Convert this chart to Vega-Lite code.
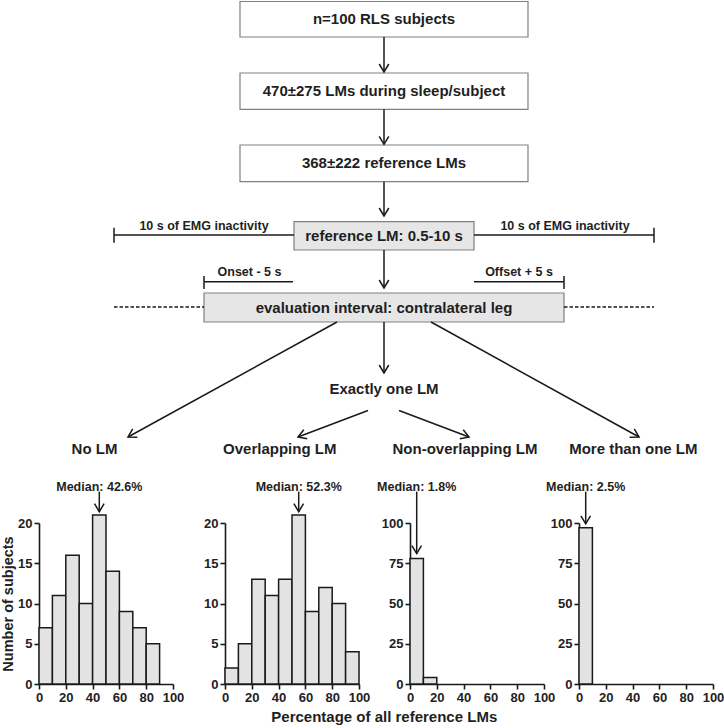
{
  "$schema": "https://vega.github.io/schema/vega-lite/v6.json",
  "padding": {"left": 0, "top": 0, "right": 0, "bottom": 0},
  "background": "white",
  "bounds": "flush",
  "spacing": 59,
  "config": {
    "font": "Liberation Sans",
    "view": {"stroke": null},
    "axis": {
      "grid": false,
      "domainColor": "#1a1a1a",
      "domainWidth": 1.6,
      "tickColor": "#1a1a1a",
      "tickWidth": 1.6,
      "tickSize": 5,
      "labelFont": "Liberation Sans",
      "labelFontSize": 13,
      "labelFontWeight": "bold",
      "labelColor": "#222222",
      "labelPadding": 2,
      "labelOverlap": false,
      "titleFont": "Liberation Sans",
      "titleFontSize": 14.5,
      "titleFontWeight": "bold",
      "titleColor": "#222222",
      "titlePadding": 2
    }
  },
  "datasets": {
    "boxes": [
      {"x": 240, "x2": 528, "y": 0.5, "y2": 36},
      {"x": 240, "x2": 528, "y": 72, "y2": 108.3},
      {"x": 240, "x2": 528, "y": 144, "y2": 180.7}
    ],
    "gboxes": [
      {"x": 294, "x2": 474, "y": 220.7, "y2": 249},
      {"x": 204, "x2": 564, "y": 292, "y2": 321}
    ],
    "seg": [
      {"x": 114, "y": 234, "x2": 294, "y2": 234},
      {"x": 114, "y": 226.7, "x2": 114, "y2": 241.7},
      {"x": 474, "y": 234, "x2": 654, "y2": 234},
      {"x": 654, "y": 226.7, "x2": 654, "y2": 241.7},
      {"x": 204, "y": 280.7, "x2": 293, "y2": 280.7},
      {"x": 204, "y": 275, "x2": 204, "y2": 288},
      {"x": 474, "y": 280.7, "x2": 564, "y2": 280.7},
      {"x": 564, "y": 275, "x2": 564, "y2": 288}
    ],
    "dash": [
      {"x": 114, "y": 306, "x2": 204, "y2": 306},
      {"x": 564, "y": 306, "x2": 654, "y2": 306}
    ],
    "arrows": [
      {"x": 384, "y": 36, "x2": 384, "y2": 71},
      {"x": 384, "y": 108.3, "x2": 384, "y2": 143.3},
      {"x": 384, "y": 180.7, "x2": 384, "y2": 215},
      {"x": 384, "y": 249, "x2": 384, "y2": 287},
      {"x": 384, "y": 321, "x2": 384, "y2": 372},
      {"x": 337, "y": 321, "x2": 128, "y2": 436},
      {"x": 431, "y": 321, "x2": 639, "y2": 436},
      {"x": 368, "y": 409.5, "x2": 298, "y2": 436},
      {"x": 399, "y": 409.5, "x2": 469, "y2": 436}
    ],
    "bigText": [
      {"x": 384, "y": 18, "t": "n=100 RLS subjects"},
      {"x": 384, "y": 90, "t": "470±275 LMs during sleep/subject"},
      {"x": 384, "y": 162, "t": "368±222 reference LMs"},
      {"x": 384, "y": 234.5, "t": "reference LM: 0.5-10 s"},
      {"x": 384, "y": 306.5, "t": "evaluation interval: contralateral leg"},
      {"x": 384, "y": 388, "t": "Exactly one LM"},
      {"x": 94.5, "y": 448, "t": "No LM"},
      {"x": 279.7, "y": 448, "t": "Overlapping LM"},
      {"x": 465, "y": 448, "t": "Non-overlapping LM"},
      {"x": 633.3, "y": 448, "t": "More than one LM"}
    ],
    "smallText": [
      {"x": 204, "y": 225, "t": "10 s of EMG inactivity"},
      {"x": 565, "y": 225, "t": "10 s of EMG inactivity"},
      {"x": 249.5, "y": 271, "t": "Onset - 5 s"},
      {"x": 519, "y": 271, "t": "Offset + 5 s"}
    ],
    "h1": [
      {"start": 0, "end": 10, "count": 7},
      {"start": 10, "end": 20, "count": 11},
      {"start": 20, "end": 30, "count": 16},
      {"start": 30, "end": 40, "count": 10},
      {"start": 40, "end": 50, "count": 21},
      {"start": 50, "end": 60, "count": 14},
      {"start": 60, "end": 70, "count": 9},
      {"start": 70, "end": 80, "count": 7},
      {"start": 80, "end": 90, "count": 5}
    ],
    "h2": [
      {"start": 0, "end": 10, "count": 2},
      {"start": 10, "end": 20, "count": 5},
      {"start": 20, "end": 30, "count": 13},
      {"start": 30, "end": 40, "count": 11},
      {"start": 40, "end": 50, "count": 13},
      {"start": 50, "end": 60, "count": 21},
      {"start": 60, "end": 70, "count": 9},
      {"start": 70, "end": 80, "count": 12},
      {"start": 80, "end": 90, "count": 10},
      {"start": 90, "end": 100, "count": 4}
    ],
    "h3": [
      {"start": 0, "end": 10, "count": 78},
      {"start": 10, "end": 20, "count": 4}
    ],
    "h4": [
      {"start": 0, "end": 10, "count": 97}
    ],
    "m1": [{"x": 45, "ty": 24.5, "a1": 23.9, "a2": 21.4, "label": "Median: 42.6%"}],
    "m2": [{"x": 55, "ty": 24.5, "a1": 23.9, "a2": 21.4, "label": "Median: 52.3%"}],
    "m3": [{"x": 5, "ty": 122.5, "a1": 119.5, "a2": 81, "label": "Median: 1.8%"}],
    "m4": [{"x": 5, "ty": 122.5, "a1": 119.5, "a2": 99.5, "label": "Median: 2.5%"}]
  },
  "vconcat": [
    {
      "width": 685,
      "height": 463,
      "layer": [
        {
          "data": {"name": "boxes"},
          "mark": {"type": "rect", "fill": "white", "stroke": "#808080", "strokeWidth": 1.2},
          "encoding": {
            "x": {"field": "x", "type": "quantitative", "scale": {"domain": [39, 724], "nice": false, "zero": false}, "axis": null},
            "x2": {"field": "x2"},
            "y": {"field": "y", "type": "quantitative", "scale": {"domain": [0, 463], "reverse": true, "nice": false, "zero": false}, "axis": null},
            "y2": {"field": "y2"}
          }
        },
        {
          "data": {"name": "gboxes"},
          "mark": {"type": "rect", "fill": "#e6e6e6", "stroke": "#808080", "strokeWidth": 1.2},
          "encoding": {
            "x": {"field": "x", "type": "quantitative", "scale": {"domain": [39, 724], "nice": false, "zero": false}, "axis": null},
            "x2": {"field": "x2"},
            "y": {"field": "y", "type": "quantitative", "scale": {"domain": [0, 463], "reverse": true, "nice": false, "zero": false}, "axis": null},
            "y2": {"field": "y2"}
          }
        },
        {
          "data": {"name": "seg"},
          "mark": {"type": "rule", "color": "#1a1a1a", "strokeWidth": 1.5},
          "encoding": {
            "x": {"field": "x", "type": "quantitative", "scale": {"domain": [39, 724], "nice": false, "zero": false}, "axis": null},
            "x2": {"field": "x2"},
            "y": {"field": "y", "type": "quantitative", "scale": {"domain": [0, 463], "reverse": true, "nice": false, "zero": false}, "axis": null},
            "y2": {"field": "y2"}
          }
        },
        {
          "data": {"name": "dash"},
          "mark": {"type": "rule", "color": "#1a1a1a", "strokeWidth": 1.3, "strokeDash": [3.5, 2]},
          "encoding": {
            "x": {"field": "x", "type": "quantitative", "scale": {"domain": [39, 724], "nice": false, "zero": false}, "axis": null},
            "x2": {"field": "x2"},
            "y": {"field": "y", "type": "quantitative", "scale": {"domain": [0, 463], "reverse": true, "nice": false, "zero": false}, "axis": null},
            "y2": {"field": "y2"}
          }
        },
        {
          "data": {"name": "arrows"},
          "mark": {"type": "rule", "color": "#1a1a1a", "strokeWidth": 1.5},
          "encoding": {
            "x": {"field": "x", "type": "quantitative", "scale": {"domain": [39, 724], "nice": false, "zero": false}, "axis": null},
            "x2": {"field": "x2"},
            "y": {"field": "y", "type": "quantitative", "scale": {"domain": [0, 463], "reverse": true, "nice": false, "zero": false}, "axis": null},
            "y2": {"field": "y2"}
          }
        },
        {
          "data": {"name": "arrows"},
          "transform": [{"calculate": "atan2(datum.x - datum.x2, datum.y2 - datum.y) * 180 / PI", "as": "ang"}],
          "mark": {"type": "point", "shape": "M-0.6,-1L0,0L0.6,-1", "size": 256, "filled": false, "color": "#1a1a1a", "strokeWidth": 1.5, "opacity": 1},
          "encoding": {
            "x": {"field": "x2", "type": "quantitative", "scale": {"domain": [39, 724], "nice": false, "zero": false}, "axis": null},
            "y": {"field": "y2", "type": "quantitative", "scale": {"domain": [0, 463], "reverse": true, "nice": false, "zero": false}, "axis": null},
            "angle": {"field": "ang", "type": "quantitative", "scale": null}
          }
        },
        {
          "data": {"name": "bigText"},
          "mark": {"type": "text", "fontSize": 15, "fontWeight": "bold", "color": "#1f1f1f", "baseline": "middle", "align": "center"},
          "encoding": {
            "x": {"field": "x", "type": "quantitative", "scale": {"domain": [39, 724], "nice": false, "zero": false}, "axis": null},
            "y": {"field": "y", "type": "quantitative", "scale": {"domain": [0, 463], "reverse": true, "nice": false, "zero": false}, "axis": null},
            "text": {"field": "t"}
          }
        },
        {
          "data": {"name": "smallText"},
          "mark": {"type": "text", "fontSize": 12.5, "fontWeight": "bold", "color": "#1f1f1f", "baseline": "middle", "align": "center"},
          "encoding": {
            "x": {"field": "x", "type": "quantitative", "scale": {"domain": [39, 724], "nice": false, "zero": false}, "axis": null},
            "y": {"field": "y", "type": "quantitative", "scale": {"domain": [0, 463], "reverse": true, "nice": false, "zero": false}, "axis": null},
            "text": {"field": "t"}
          }
        }
      ]
    },
    {
      "bounds": "flush",
      "spacing": 0,
      "title": {"text": "Percentage of all reference LMs", "orient": "bottom", "anchor": "middle", "fontSize": 15, "fontWeight": "bold", "color": "#1f1f1f", "font": "Liberation Sans", "offset": 6, "dx": 22},
      "hconcat": [
        {
          "width": 186, "height": 161,
          "layer": [
            {
              "data": {"name": "h1"},
              "mark": {"type": "rect", "fill": "#e3e3e3", "stroke": "#1a1a1a", "strokeWidth": 1.5},
              "encoding": {
                "x": {"field": "start", "type": "quantitative", "title": null, "scale": {"domain": [0, 100], "range": [0, 134], "nice": false}, "axis": {"values": [0, 20, 40, 60, 80, 100], "format": "d", "labelOverlap": false, "labelFlush": false}},
                "x2": {"field": "end"},
                "y": {"field": "count", "type": "quantitative", "title": "Number of subjects", "scale": {"domain": [0, 20], "nice": false}, "axis": {"values": [0, 5, 10, 15, 20], "format": "d", "labelOverlap": false}},
                "y2": {"datum": 0}
              }
            },
            {
              "data": {"name": "m1"},
              "mark": {"type": "rule", "color": "#1a1a1a", "strokeWidth": 1.5},
              "encoding": {
                "x": {"field": "x", "type": "quantitative", "title": null, "axis": {"values": [0, 20, 40, 60, 80, 100], "format": "d", "labelOverlap": false, "labelFlush": false}},
                "y": {"field": "a1", "type": "quantitative", "title": "Number of subjects", "axis": {"values": [0, 5, 10, 15, 20], "format": "d", "labelOverlap": false}},
                "y2": {"field": "a2"}
              }
            },
            {
              "data": {"name": "m1"},
              "mark": {"type": "point", "shape": "M-0.6,-1L0,0L0.6,-1", "size": 256, "filled": false, "color": "#1a1a1a", "strokeWidth": 1.5, "opacity": 1},
              "encoding": {
                "x": {"field": "x", "type": "quantitative", "title": null, "axis": {"values": [0, 20, 40, 60, 80, 100], "format": "d", "labelOverlap": false, "labelFlush": false}},
                "y": {"field": "a2", "type": "quantitative", "title": "Number of subjects", "axis": {"values": [0, 5, 10, 15, 20], "format": "d", "labelOverlap": false}}
              }
            },
            {
              "data": {"name": "m1"},
              "mark": {"type": "text", "fontSize": 12.5, "fontWeight": "bold", "color": "#1f1f1f", "baseline": "middle"},
              "encoding": {
                "x": {"field": "x", "type": "quantitative", "title": null, "axis": {"values": [0, 20, 40, 60, 80, 100], "format": "d", "labelOverlap": false, "labelFlush": false}},
                "y": {"field": "ty", "type": "quantitative", "title": "Number of subjects", "axis": {"values": [0, 5, 10, 15, 20], "format": "d", "labelOverlap": false}},
                "text": {"field": "label"}
              }
            }
          ]
        },
        {
          "width": 185, "height": 161,
          "layer": [
            {
              "data": {"name": "h2"},
              "mark": {"type": "rect", "fill": "#e3e3e3", "stroke": "#1a1a1a", "strokeWidth": 1.5},
              "encoding": {
                "x": {"field": "start", "type": "quantitative", "title": null, "scale": {"domain": [0, 100], "range": [0, 134], "nice": false}, "axis": {"values": [0, 20, 40, 60, 80, 100], "format": "d", "labelOverlap": false, "labelFlush": false}},
                "x2": {"field": "end"},
                "y": {"field": "count", "type": "quantitative", "title": null, "scale": {"domain": [0, 20], "nice": false}, "axis": {"values": [0, 5, 10, 15, 20], "format": "d", "labelOverlap": false}},
                "y2": {"datum": 0}
              }
            },
            {
              "data": {"name": "m2"},
              "mark": {"type": "rule", "color": "#1a1a1a", "strokeWidth": 1.5},
              "encoding": {
                "x": {"field": "x", "type": "quantitative", "title": null, "axis": {"values": [0, 20, 40, 60, 80, 100], "format": "d", "labelOverlap": false, "labelFlush": false}},
                "y": {"field": "a1", "type": "quantitative", "title": null, "axis": {"values": [0, 5, 10, 15, 20], "format": "d", "labelOverlap": false}},
                "y2": {"field": "a2"}
              }
            },
            {
              "data": {"name": "m2"},
              "mark": {"type": "point", "shape": "M-0.6,-1L0,0L0.6,-1", "size": 256, "filled": false, "color": "#1a1a1a", "strokeWidth": 1.5, "opacity": 1},
              "encoding": {
                "x": {"field": "x", "type": "quantitative", "title": null, "axis": {"values": [0, 20, 40, 60, 80, 100], "format": "d", "labelOverlap": false, "labelFlush": false}},
                "y": {"field": "a2", "type": "quantitative", "title": null, "axis": {"values": [0, 5, 10, 15, 20], "format": "d", "labelOverlap": false}}
              }
            },
            {
              "data": {"name": "m2"},
              "mark": {"type": "text", "fontSize": 12.5, "fontWeight": "bold", "color": "#1f1f1f", "baseline": "middle"},
              "encoding": {
                "x": {"field": "x", "type": "quantitative", "title": null, "axis": {"values": [0, 20, 40, 60, 80, 100], "format": "d", "labelOverlap": false, "labelFlush": false}},
                "y": {"field": "ty", "type": "quantitative", "title": null, "axis": {"values": [0, 5, 10, 15, 20], "format": "d", "labelOverlap": false}},
                "text": {"field": "label"}
              }
            }
          ]
        },
        {
          "width": 169, "height": 161,
          "layer": [
            {
              "data": {"name": "h3"},
              "mark": {"type": "rect", "fill": "#e3e3e3", "stroke": "#1a1a1a", "strokeWidth": 1.5},
              "encoding": {
                "x": {"field": "start", "type": "quantitative", "title": null, "scale": {"domain": [0, 100], "range": [0, 134], "nice": false}, "axis": {"values": [0, 20, 40, 60, 80, 100], "format": "d", "labelOverlap": false, "labelFlush": false}},
                "x2": {"field": "end"},
                "y": {"field": "count", "type": "quantitative", "title": null, "scale": {"domain": [0, 100], "nice": false}, "axis": {"values": [0, 25, 50, 75, 100], "format": "d", "labelOverlap": false}},
                "y2": {"datum": 0}
              }
            },
            {
              "data": {"name": "m3"},
              "mark": {"type": "rule", "color": "#1a1a1a", "strokeWidth": 1.5},
              "encoding": {
                "x": {"field": "x", "type": "quantitative", "title": null, "axis": {"values": [0, 20, 40, 60, 80, 100], "format": "d", "labelOverlap": false, "labelFlush": false}},
                "y": {"field": "a1", "type": "quantitative", "title": null, "axis": {"values": [0, 25, 50, 75, 100], "format": "d", "labelOverlap": false}},
                "y2": {"field": "a2"}
              }
            },
            {
              "data": {"name": "m3"},
              "mark": {"type": "point", "shape": "M-0.6,-1L0,0L0.6,-1", "size": 256, "filled": false, "color": "#1a1a1a", "strokeWidth": 1.5, "opacity": 1},
              "encoding": {
                "x": {"field": "x", "type": "quantitative", "title": null, "axis": {"values": [0, 20, 40, 60, 80, 100], "format": "d", "labelOverlap": false, "labelFlush": false}},
                "y": {"field": "a2", "type": "quantitative", "title": null, "axis": {"values": [0, 25, 50, 75, 100], "format": "d", "labelOverlap": false}}
              }
            },
            {
              "data": {"name": "m3"},
              "mark": {"type": "text", "fontSize": 12.5, "fontWeight": "bold", "color": "#1f1f1f", "baseline": "middle"},
              "encoding": {
                "x": {"field": "x", "type": "quantitative", "title": null, "axis": {"values": [0, 20, 40, 60, 80, 100], "format": "d", "labelOverlap": false, "labelFlush": false}},
                "y": {"field": "ty", "type": "quantitative", "title": null, "axis": {"values": [0, 25, 50, 75, 100], "format": "d", "labelOverlap": false}},
                "text": {"field": "label"}
              }
            }
          ]
        },
        {
          "width": 145, "height": 161,
          "layer": [
            {
              "data": {"name": "h4"},
              "mark": {"type": "rect", "fill": "#e3e3e3", "stroke": "#1a1a1a", "strokeWidth": 1.5},
              "encoding": {
                "x": {"field": "start", "type": "quantitative", "title": null, "scale": {"domain": [0, 100], "range": [0, 134], "nice": false}, "axis": {"values": [0, 20, 40, 60, 80, 100], "format": "d", "labelOverlap": false, "labelFlush": false}},
                "x2": {"field": "end"},
                "y": {"field": "count", "type": "quantitative", "title": null, "scale": {"domain": [0, 100], "nice": false}, "axis": {"values": [0, 25, 50, 75, 100], "format": "d", "labelOverlap": false}},
                "y2": {"datum": 0}
              }
            },
            {
              "data": {"name": "m4"},
              "mark": {"type": "rule", "color": "#1a1a1a", "strokeWidth": 1.5},
              "encoding": {
                "x": {"field": "x", "type": "quantitative", "title": null, "axis": {"values": [0, 20, 40, 60, 80, 100], "format": "d", "labelOverlap": false, "labelFlush": false}},
                "y": {"field": "a1", "type": "quantitative", "title": null, "axis": {"values": [0, 25, 50, 75, 100], "format": "d", "labelOverlap": false}},
                "y2": {"field": "a2"}
              }
            },
            {
              "data": {"name": "m4"},
              "mark": {"type": "point", "shape": "M-0.6,-1L0,0L0.6,-1", "size": 256, "filled": false, "color": "#1a1a1a", "strokeWidth": 1.5, "opacity": 1},
              "encoding": {
                "x": {"field": "x", "type": "quantitative", "title": null, "axis": {"values": [0, 20, 40, 60, 80, 100], "format": "d", "labelOverlap": false, "labelFlush": false}},
                "y": {"field": "a2", "type": "quantitative", "title": null, "axis": {"values": [0, 25, 50, 75, 100], "format": "d", "labelOverlap": false}}
              }
            },
            {
              "data": {"name": "m4"},
              "mark": {"type": "text", "fontSize": 12.5, "fontWeight": "bold", "color": "#1f1f1f", "baseline": "middle"},
              "encoding": {
                "x": {"field": "x", "type": "quantitative", "title": null, "axis": {"values": [0, 20, 40, 60, 80, 100], "format": "d", "labelOverlap": false, "labelFlush": false}},
                "y": {"field": "ty", "type": "quantitative", "title": null, "axis": {"values": [0, 25, 50, 75, 100], "format": "d", "labelOverlap": false}},
                "text": {"field": "label"}
              }
            }
          ]
        }
      ]
    }
  ]
}
